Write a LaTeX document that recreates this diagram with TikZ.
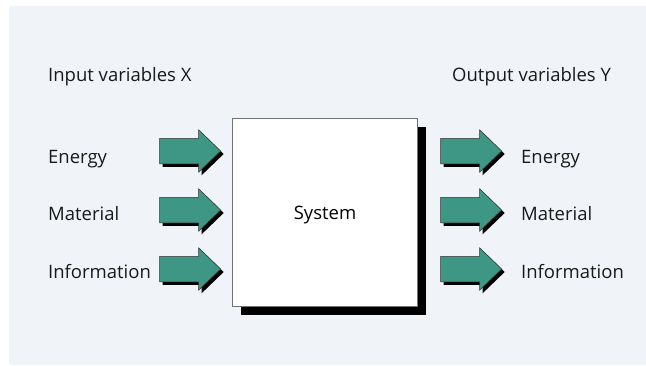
\documentclass[tikz,border=0pt]{standalone}
\usepackage{fontspec}
\setmainfont{Open Sans}
\usetikzlibrary{shapes.arrows,shadows}
\definecolor{panelbg}{RGB}{240,244,248}
\definecolor{flowteal}{RGB}{62,150,133}
\tikzset{
flow/.style={single arrow, draw=black!80, line width=0.5pt, fill=flowteal,
  minimum height=61pt, single arrow head extend=8.5pt,
  inner xsep=0pt, inner ysep=12.5pt, single arrow tip angle=88,
  drop shadow={shadow xshift=3pt, shadow yshift=-3pt, opacity=1, fill=black}},
sysbox/.style={draw=black!55, line width=0.6pt, fill=white,
  minimum width=185pt, minimum height=188pt, inner sep=0pt,
  text height=14pt, text depth=0pt, font=\fontsize{18.5}{21}\selectfont,
  drop shadow={shadow xshift=8pt, shadow yshift=-9pt, opacity=1, fill=black}},
word/.style={anchor=base west, inner sep=0pt, text=black!90,
  font=\fontsize{18.5}{21}\selectfont}
}

\begin{document}
\begin{tikzpicture}[x=1pt, y=-1pt]
  \useasboundingbox (0,0) rectangle (646,365);
  \fill[panelbg] (9,6) rectangle (646,365);
  % headings
  \node[word] (inhead) at (48,81) {Input variables X};
  \node[word] (outhead) at (452,81) {Output variables Y};
  % the system block
  \node[sysbox] (sys) at (325,212) {System};
  % three flows in and out
  \foreach \y/\w/\t [count=\i] in {151/163/Energy, 210/220/Material, 269/278/Information} {
    \node[word] (lin\i) at (48,\w) {\t};
    \node[flow, anchor=tip] (in\i) at (221,\y) {};
    \node[flow, anchor=tip] (out\i) at (502,\y) {};
    \node[word] (lout\i) at (521,\w) {\t};
  }
\end{tikzpicture}
\end{document}
